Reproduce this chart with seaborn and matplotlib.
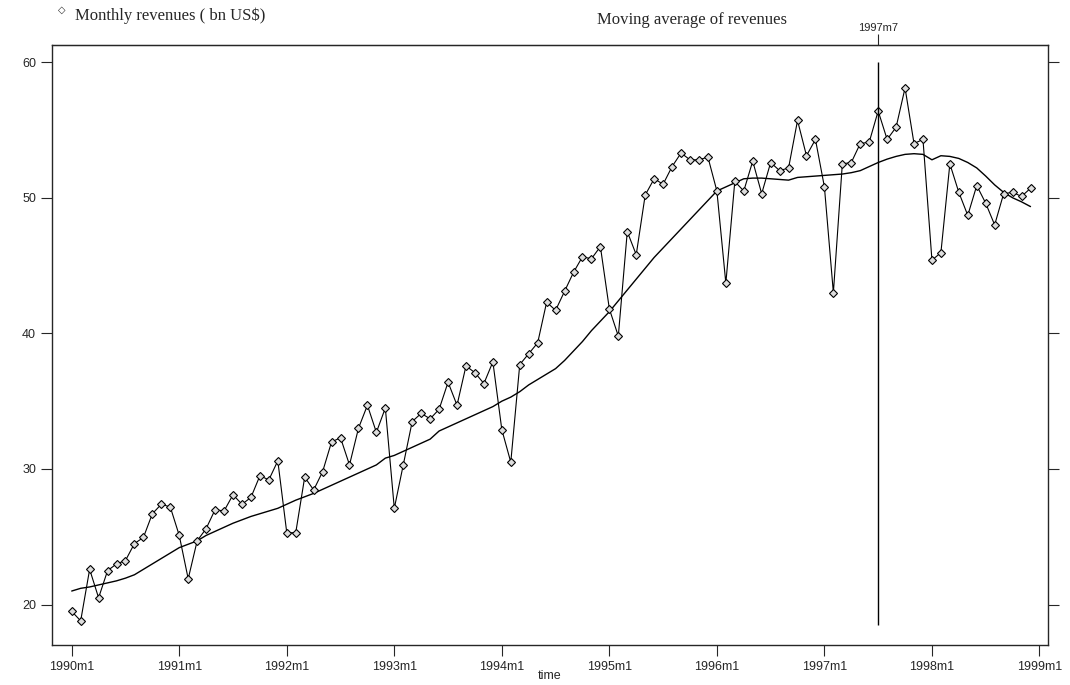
import numpy as np
import pandas as pd
import matplotlib
matplotlib.use("Agg")
import matplotlib.pyplot as plt
import seaborn as sns

# monthly revenues (bn US$), 1990m1 .. 1998m12
rev_1990 = [19.5, 18.8, 22.6, 20.5, 22.5, 23.0, 23.25, 24.5, 24.95, 26.7, 27.4, 27.2]
rev_1991 = [25.1, 21.9, 24.7, 25.6, 27.0, 26.9, 28.1, 27.4, 27.9, 29.5, 29.2, 30.6]
rev_1992 = [25.3, 25.3, 29.4, 28.45, 29.8, 32.0, 32.3, 30.3, 33.0, 34.7, 32.7, 34.5]
rev_1993 = [27.1, 30.3, 33.5, 34.1, 33.7, 34.4, 36.4, 34.7, 37.6, 37.1, 36.3, 37.9]
rev_1994 = [32.9, 30.5, 37.7, 38.5, 39.3, 42.3, 41.7, 43.1, 44.5, 45.65, 45.5, 46.4]
rev_1995 = [41.8, 39.8, 47.5, 45.8, 50.2, 51.4, 51.0, 52.3, 53.3, 52.8, 52.8, 53.0]
rev_1996 = [50.5, 43.7, 51.2, 50.5, 52.7, 50.3, 52.6, 52.0, 52.2, 55.7, 53.1, 54.3]
rev_1997 = [50.8, 43.0, 52.5, 52.6, 54.0, 54.1, 56.4, 54.3, 55.2, 58.1, 54.0, 54.3]
rev_1998 = [45.4, 45.95, 52.5, 50.4, 48.7, 50.9, 49.6, 48.0, 50.3, 50.4, 50.1, 50.7]

# moving average of revenues
ma_1990 = [21.0, 21.2, 21.3, 21.45, 21.6, 21.75, 21.95, 22.2, 22.6, 23.0, 23.4, 23.8]
ma_1991 = [24.2, 24.45, 24.7, 25.1, 25.4, 25.7, 26.0, 26.25, 26.5, 26.7, 26.9, 27.1]
ma_1992 = [27.4, 27.7, 27.95, 28.2, 28.5, 28.8, 29.1, 29.4, 29.7, 30.0, 30.3, 30.8]
ma_1993 = [31.0, 31.3, 31.6, 31.9, 32.2, 32.8, 33.1, 33.4, 33.7, 34.0, 34.3, 34.6]
ma_1994 = [35.0, 35.3, 35.7, 36.2, 36.6, 37.0, 37.4, 38.0, 38.7, 39.4, 40.2, 40.9]
ma_1995 = [41.6, 42.4, 43.2, 44.0, 44.8, 45.6, 46.3, 47.0, 47.7, 48.4, 49.1, 49.8]
ma_1996 = [50.5, 50.8, 51.1, 51.4, 51.45, 51.45, 51.4, 51.35, 51.3, 51.5, 51.55, 51.6]
ma_1997 = [51.65, 51.7, 51.75, 51.85, 52.0, 52.3, 52.6, 52.85, 53.05, 53.2, 53.25, 53.2]
ma_1998 = [52.8, 53.1, 53.05, 52.9, 52.6, 52.2, 51.6, 50.95, 50.4, 50.0, 49.7, 49.35]

years = [1990, 1991, 1992, 1993, 1994, 1995, 1996, 1997, 1998, 1999]
tick_labels = [f"{y}m1" for y in years]
yticks = [20, 30, 40, 50, 60]
event_label = "1997m7"
event_month = 90  # months since 1990m1

revenues = (rev_1990 + rev_1991 + rev_1992 + rev_1993 + rev_1994
            + rev_1995 + rev_1996 + rev_1997 + rev_1998)
moving_avg = (ma_1990 + ma_1991 + ma_1992 + ma_1993 + ma_1994
              + ma_1995 + ma_1996 + ma_1997 + ma_1998)

df = pd.DataFrame({"time": np.arange(len(revenues)),
                   "revenue": revenues,
                   "ma": moving_avg})

sns.set_style("ticks")
plt.rcParams['font.family'] = ['Liberation Sans', 'DejaVu Sans']

fig = plt.figure(figsize=(10.7, 6.85), dpi=100)
ax = fig.add_axes([0.0486, 0.058, 0.9304, 0.876])

sns.lineplot(data=df, x="time", y="ma", color="black", linewidth=1.0, ax=ax)
sns.lineplot(data=df, x="time", y="revenue", color="black", linewidth=0.8,
             marker="D", markersize=4.5, markerfacecolor="#dddddd",
             markeredgecolor="black", markeredgewidth=0.8, ax=ax)

ax.vlines(event_month, 18.5, 60, color="black", linewidth=1.0)

ax.set_xlim(-2.2, 108.9)
ax.set_ylim(17.0, 61.25)
ax.set_xticks([12 * i for i in range(len(years))])
ax.set_xticklabels(tick_labels, fontsize=9)
ax.set_yticks(yticks)
ax.set_yticklabels([str(v) for v in yticks], fontsize=9)
ax.tick_params(right=True, labelright=False, length=8, width=0.8)
ax.set_xlabel("time", fontsize=9, labelpad=-2)
ax.set_ylabel("")
for s in ax.spines.values():
    s.set_visible(True)
    s.set_linewidth(1.0)

top = ax.secondary_xaxis("top")
top.set_xticks([event_month])
top.set_xticklabels([event_label], fontsize=8)
top.tick_params(length=8, width=0.8, pad=1)

fig.text(0.058, 0.986, "\u25c7", fontsize=7, ha="center", va="center")
fig.text(0.070, 0.977, "Monthly revenues ( bn US$)", fontsize=12,
         family="Liberation Serif", va="center")
fig.text(0.558, 0.971, "Moving average of revenues", fontsize=12,
         family="Liberation Serif", va="center")

fig.savefig("out.png", dpi=100)
